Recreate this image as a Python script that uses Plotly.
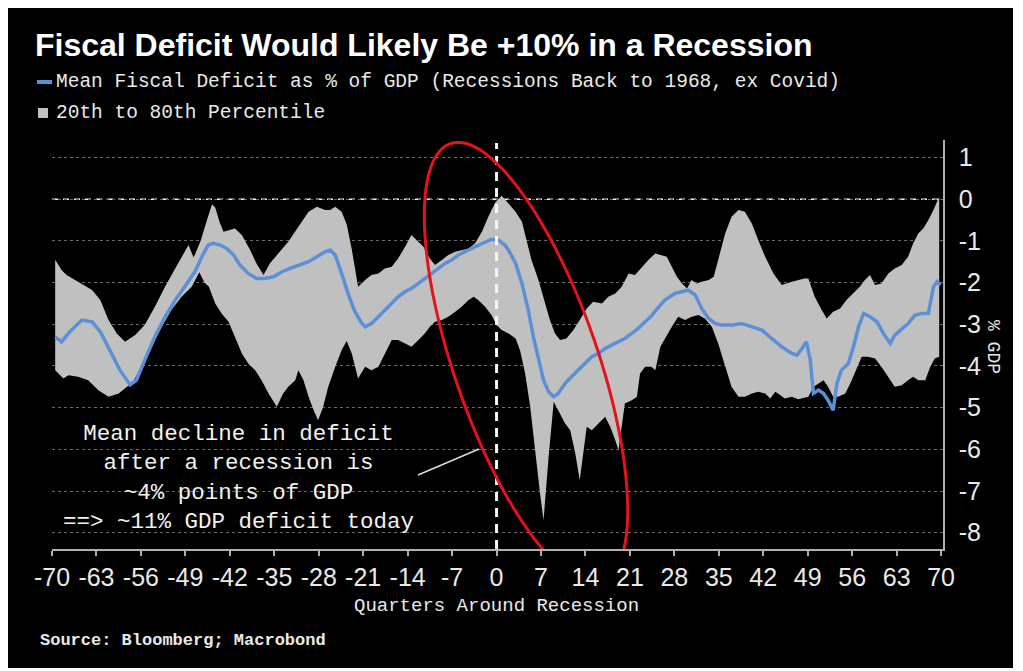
import numpy as np
import plotly.graph_objects as go

# ---------------- data ----------------
upper_q = [-69.5, -68.5, -67.7, -65.9, -63.7, -62.4, -61.1, -59.8, -58.5, -56.9, -55.4, -53.8, -52.2, -50.6,
           -49.3, -48.5, -47.7, -46.6, -45.6, -44.8, -44.3, -43.6, -43.0, -42.2, -41.2, -40.1, -38.8, -37.8,
           -36.7, -35.7, -34.4, -32.8, -31.2, -29.6, -28.3, -27.0, -26.2, -25.4, -24.4, -23.6, -22.8, -22.2,
           -21.8, -20.7, -19.7, -18.6, -17.6, -16.5, -15.5, -14.4, -13.4, -12.6, -11.5, -10.5, -9.7, -8.6,
           -7.6, -6.5, -5.5, -4.4, -3.4, -2.3, -1.3, -0.2, 0.8, 1.9, 3.0, 4.0, 4.75, 5.5, 6.6, 7.6, 8.4, 9.2,
           10.0, 11.0, 12.1, 13.1, 14.2, 15.2, 16.6, 17.6, 18.7, 19.7, 20.8, 21.8, 22.9, 23.9, 25.0, 25.8,
           26.8, 27.6, 28.4, 29.2, 30.0, 30.7, 31.5, 32.3, 33.4, 34.2, 34.9, 36.0, 37.0, 38.1, 39.1, 40.2,
           41.2, 42.3, 43.6, 44.9, 46.5, 47.5, 48.5, 49.1, 50.1, 51.2, 52.0, 53.0, 54.1, 55.1, 56.2, 57.2,
           58.0, 58.8, 59.6, 60.6, 61.7, 62.7, 63.8, 64.8, 65.6, 66.4, 67.2, 68.0, 68.8, 69.7]
upper_80th = [-1.45, -1.7, -1.82, -1.98, -2.18, -2.42, -2.9, -3.22, -3.42, -3.26, -3.02, -2.58, -2.1, -1.66,
              -1.3, -1.1, -1.4, -1.0, -0.5, -0.12, -0.2, -0.55, -0.78, -0.74, -0.7, -0.86, -1.22, -1.54,
              -1.82, -1.54, -1.3, -1.02, -0.66, -0.3, -0.18, -0.26, -0.26, -0.18, -0.3, -0.6, -1.2, -1.7,
              -2.1, -1.94, -1.82, -1.78, -1.66, -1.62, -1.42, -1.14, -0.86, -0.98, -1.14, -1.42, -1.58, -1.46,
              -1.34, -1.26, -1.22, -1.18, -1.06, -0.78, -0.42, -0.08, 0.08, -0.1, -0.3, -0.54, -0.98, -1.46,
              -1.94, -2.5, -2.9, -3.22, -3.38, -3.34, -3.14, -2.9, -2.62, -2.46, -2.5, -2.34, -2.26, -2.1,
              -1.78, -1.82, -1.62, -1.46, -1.3, -1.34, -1.38, -1.62, -1.86, -2.02, -2.14, -1.94, -2.02, -1.98,
              -1.94, -1.86, -1.46, -0.82, -0.42, -0.26, -0.3, -0.58, -0.98, -1.38, -1.78, -2.06, -1.98, -1.94,
              -1.9, -1.9, -2.34, -2.66, -2.86, -2.7, -2.62, -2.42, -2.26, -2.1, -1.94, -1.82, -2.06, -2.02,
              -1.78, -1.66, -1.58, -1.38, -1.06, -0.82, -0.7, -0.5, -0.26, 0.06]

lower_q = [-69.5, -68.2, -67.4, -65.9, -64.3, -62.7, -61.1, -59.5, -58.2, -57.4, -55.9, -54.3, -52.7, -51.2,
           -49.6, -48.0, -46.8, -46.0, -45.3, -44.3, -43.3, -42.2, -41.2, -40.1, -39.1, -38.0, -37.0, -35.9,
           -34.6, -33.6, -32.8, -31.7, -31.2, -30.4, -29.6, -28.8, -28.1, -27.3, -26.5, -25.4, -24.4, -23.6,
           -22.8, -21.8, -20.7, -19.7, -18.6, -17.6, -16.5, -15.5, -14.4, -13.4, -12.3, -11.3, -10.5, -9.7,
           -8.6, -7.6, -6.5, -5.5, -4.4, -3.6, -2.9, -1.8, -0.8, 0.0, 0.8, 1.9, 3.0, 3.7, 4.5, 5.3, 6.1,
           6.85, 7.4, 8.2, 9.0, 9.7, 10.8, 11.6, 12.4, 13.1, 13.7, 14.2, 15.0, 16.0, 17.1, 17.9, 18.7, 19.2,
           19.7, 20.2, 21.3, 22.1, 22.6, 23.4, 24.4, 25.0, 25.8, 26.5, 27.6, 28.6, 29.7, 30.7, 31.8, 32.8,
           33.9, 34.9, 36.0, 37.0, 38.1, 39.1, 40.2, 41.2, 42.3, 43.1, 43.9, 44.7, 45.4, 46.5, 47.5, 48.5,
           49.1, 49.9, 50.7, 51.5, 52.2, 53.0, 53.8, 54.9, 55.7, 56.4, 57.5, 58.5, 59.6, 60.6, 61.7, 62.7,
           63.8, 64.8, 65.6, 66.4, 67.5, 68.3, 69.0, 69.7]
lower_20th = [-4.1, -4.3, -4.22, -4.26, -4.34, -4.58, -4.74, -4.66, -4.5, -4.42, -4.02, -3.54, -3.06, -2.66,
              -2.34, -2.1, -1.75, -2.0, -2.1, -2.5, -2.74, -2.94, -3.3, -3.7, -3.94, -4.1, -4.34, -4.66,
              -4.98, -4.66, -4.5, -4.34, -4.1, -4.34, -4.74, -5.06, -5.3, -4.98, -4.5, -4.02, -3.62, -3.4,
              -3.7, -4.3, -4.02, -4.1, -4.02, -3.7, -3.38, -3.38, -3.46, -3.54, -3.38, -3.22, -3.06, -2.94,
              -2.9, -2.82, -2.7, -2.58, -2.42, -2.34, -2.42, -2.58, -2.78, -3.02, -3.14, -3.22, -3.34, -3.62,
              -4.18, -4.98, -6.02, -7.06, -7.7, -6.18, -4.86, -5.06, -5.38, -5.54, -6.1, -6.74, -6.1, -5.46,
              -5.54, -5.38, -5.22, -5.46, -5.78, -6.02, -5.46, -4.9, -4.82, -4.74, -4.18, -4.02, -4.02, -4.1,
              -3.54, -3.34, -3.06, -2.82, -2.9, -2.82, -2.78, -2.86, -3.06, -3.46, -4.02, -4.5, -4.74, -4.74,
              -4.66, -4.62, -4.66, -4.78, -4.62, -4.7, -4.78, -4.74, -4.8, -4.76, -4.74, -4.5, -4.42, -4.34,
              -4.5, -4.74, -4.74, -4.66, -4.42, -4.18, -3.78, -3.78, -3.82, -4.02, -4.26, -4.5, -4.46, -4.34,
              -4.26, -4.34, -4.34, -4.02, -3.82, -3.78]

mean_q = [-69.5, -68.5, -67.2, -65.3, -63.7, -62.4, -60.9, -59.3, -57.7, -56.7, -55.4, -53.8, -52.2, -50.6,
          -49.1, -47.5, -46.4, -45.4, -44.6, -43.5, -42.5, -41.4, -40.4, -39.1, -37.8, -36.5, -35.1, -33.8,
          -32.5, -31.2, -29.6, -28.3, -27.0, -26.2, -25.4, -24.4, -23.3, -22.3, -21.2, -20.7, -19.7, -18.6,
          -17.6, -16.5, -15.5, -14.4, -13.4, -12.3, -11.3, -10.2, -9.2, -8.1, -7.1, -6.0, -5.0, -3.9, -2.9,
          -1.8, -0.8, 0.3, 1.3, 1.9, 3.0, 4.0, 5.0, 5.8, 6.6, 7.4, 8.2, 9.0, 9.7, 10.8, 11.8, 12.9, 14.0,
          15.0, 16.0, 17.1, 18.1, 19.2, 20.2, 21.3, 22.3, 23.4, 24.4, 25.0, 26.5, 28.1, 29.2, 30.2, 31.3,
          32.3, 33.4, 34.4, 35.5, 37.0, 38.6, 40.2, 41.8, 43.3, 44.9, 46.5, 47.3, 48.1, 48.8, 49.4, 49.9,
          50.7, 51.5, 52.2, 53.0, 53.6, 54.3, 55.4, 56.2, 57.0, 57.8, 58.8, 59.9, 60.9, 62.0, 62.7, 63.8,
          64.8, 65.9, 67.0, 68.0, 68.8, 69.4, 69.9]
mean_deficit = [-3.3, -3.42, -3.18, -2.9, -2.94, -3.18, -3.62, -4.1, -4.45, -4.34, -3.86, -3.3, -2.82, -2.42,
                -2.1, -1.74, -1.38, -1.1, -1.06, -1.1, -1.18, -1.34, -1.58, -1.78, -1.9, -1.9, -1.86, -1.74,
                -1.66, -1.58, -1.5, -1.38, -1.26, -1.22, -1.34, -1.78, -2.3, -2.7, -2.98, -3.06, -2.98, -2.82,
                -2.66, -2.5, -2.34, -2.22, -2.14, -2.02, -1.9, -1.78, -1.66, -1.54, -1.46, -1.34, -1.26, -1.18,
                -1.1, -1.02, -0.96, -0.98, -1.1, -1.22, -1.54, -2.02, -2.66, -3.3, -3.86, -4.34, -4.62, -4.74,
                -4.66, -4.42, -4.26, -4.1, -3.94, -3.78, -3.7, -3.58, -3.5, -3.42, -3.34, -3.22, -3.1, -2.94,
                -2.8, -2.68, -2.42, -2.26, -2.22, -2.18, -2.3, -2.62, -2.86, -2.98, -3.02, -3.02, -2.98, -3.06,
                -3.14, -3.34, -3.54, -3.7, -3.74, -3.58, -3.42, -3.86, -4.66, -4.58, -4.66, -4.82, -5.06,
                -4.42, -4.1, -3.94, -3.54, -3.06, -2.74, -2.82, -2.94, -3.22, -3.46, -3.26, -3.1, -2.98,
                -2.78, -2.74, -2.74, -2.1, -1.98, -2.06]

x_tick_vals = list(range(-70, 71, 7))
x_tick_labels = [str(v) for v in x_tick_vals]
y_tick_vals = list(range(-8, 2))
y_tick_labels = [str(v) for v in y_tick_vals]

# ---------------- geometry (reference-frame pixels; page body adds an 8px offset) ----------------
OFF = 8
W, H = 1013 - OFF, 668 - OFF
L, R, T, B = 52, 943, 140, 549          # plot area in reference pixels
XR = [-70.0, 70.3]
YR = [-8.39, 1.42]


def px_x(px):
    return XR[0] + (px - L) / (R - L) * (XR[1] - XR[0])


def px_y(py):
    return YR[1] - (py - T) / (B - T) * (YR[1] - YR[0])


def pap_x(px):
    return (px - L) / (R - L)


def pap_y(py):
    return (B - py) / (B - T)


BAND = "#c0c0c0"
BLUE = "#5b8fd6"
TXT = "#e9e9e9"
MONO = "Liberation Mono, DejaVu Sans Mono, monospace"
SANS = "Liberation Sans, Arial, sans-serif"

fig = go.Figure()
fig.add_trace(go.Scatter(
    x=upper_q + lower_q[::-1], y=upper_80th + lower_20th[::-1],
    fill="toself", fillcolor=BAND, line=dict(width=0), mode="lines",
    name="20th to 80th Percentile", hoverinfo="skip", showlegend=False))
fig.add_trace(go.Scatter(
    x=mean_q, y=mean_deficit, mode="lines",
    line=dict(color=BLUE, width=3.5),
    name="Mean Fiscal Deficit as % of GDP (Recessions Back to 1968, ex Covid)", showlegend=False))

shapes = []
# zero line
shapes.append(dict(type="line", xref="paper", x0=0, x1=1, yref="y", y0=0, y1=0,
                   line=dict(color="#f0f0f0", width=1.5, dash="6px,5px"), layer="below"))
# recession start vertical line
shapes.append(dict(type="line", xref="x", x0=0, x1=0, yref="paper", y0=0, y1=pap_y(143),
                   line=dict(color="#f5f5f5", width=3, dash="9px,7px"), layer="above"))

# red ellipse (pixel geometry -> data coordinates)
cx, cy, a, b, th = 526.0, 363.0, 232.0, 72.0, np.radians(19.0)
ux, uy = np.sin(th), np.cos(th)
vx, vy = np.cos(th), -np.sin(th)
t = np.linspace(0, 2 * np.pi, 181)
ex = cx + a * np.cos(t) * ux + b * np.sin(t) * vx
ey = cy + a * np.cos(t) * uy + b * np.sin(t) * vy
path = "M " + " L ".join(f"{px_x(xx):.3f},{px_y(yy):.3f}" for xx, yy in zip(ex, ey)) + " Z"
shapes.append(dict(type="path", xref="x", yref="y", path=path,
                   line=dict(color="#e3121b", width=3), layer="above"))

# pointer line from annotation
shapes.append(dict(type="line", xref="x", yref="y", x0=px_x(418), y0=px_y(475), x1=px_x(479), y1=px_y(449),
                   line=dict(color="#dcdcdc", width=1.5), layer="above"))

# legend symbols
shapes.append(dict(type="line", xref="paper", yref="paper", x0=pap_x(37), x1=pap_x(52), y0=pap_y(82), y1=pap_y(82),
                   line=dict(color=BLUE, width=4)))
shapes.append(dict(type="rect", xref="paper", yref="paper", x0=pap_x(38), x1=pap_x(48), y0=pap_y(118), y1=pap_y(108),
                   fillcolor=BAND, line=dict(width=0)))

annotations = [
    dict(xref="paper", yref="paper", x=pap_x(54), y=pap_y(82), xanchor="left", yanchor="middle", showarrow=False,
         text="Mean Fiscal Deficit as % of GDP (Recessions Back to 1968, ex Covid)",
         font=dict(family=MONO, size=19.5, color=TXT)),
    dict(xref="paper", yref="paper", x=pap_x(54), y=pap_y(113), xanchor="left", yanchor="middle", showarrow=False,
         text="20th to 80th Percentile", font=dict(family=MONO, size=19.5, color=TXT)),
    dict(xref="paper", yref="paper", x=pap_x(238), y=pap_y(478), xanchor="center", yanchor="middle", showarrow=False,
         align="center",
         text="Mean decline in deficit<br>after a recession is<br>~4% points of GDP<br>==> ~11% GDP deficit today",
         font=dict(family=MONO, size=22.5, color="#f2f2f2")),
    dict(xref="paper", yref="paper", x=pap_x(496.5), y=pap_y(606), xanchor="center", yanchor="middle", showarrow=False,
         text="Quarters Around Recession", font=dict(family=MONO, size=19, color=TXT)),
    dict(xref="paper", yref="paper", x=pap_x(993), y=pap_y(347), xanchor="center", yanchor="middle", showarrow=False,
         text="% GDP", textangle=90, font=dict(family=MONO, size=18, color=TXT)),
    dict(xref="paper", yref="paper", x=pap_x(38), y=pap_y(640), xanchor="left", yanchor="middle", showarrow=False,
         text="<b>Source: Bloomberg; Macrobond</b>", font=dict(family=MONO, size=17, color=TXT)),
]

fig.update_layout(
    width=W, height=H, autosize=False,
    margin=dict(l=L - OFF, r=W - (R - OFF), t=T - OFF, b=H - (B - OFF), pad=0),
    paper_bgcolor="#000000", plot_bgcolor="#000000",
    title=dict(text="<b>Fiscal Deficit Would Likely Be +10% in a Recession</b>",
               x=(35 - OFF) / W, xanchor="left", xref="container",
               y=1 - (45 - OFF) / H, yanchor="middle", yref="container",
               font=dict(family=SANS, size=32, color="#ffffff")),
    showlegend=False,
    shapes=shapes,
    annotations=annotations,
    xaxis=dict(range=XR, tickvals=x_tick_vals, ticktext=x_tick_labels,
               ticks="outside", ticklen=5, tickwidth=1.5, tickcolor="#b0b0b0",
               showline=True, linecolor="#b0b0b0", linewidth=1.5,
               showgrid=False, zeroline=False,
               tickfont=dict(family=SANS, size=25, color=TXT)),
    yaxis=dict(range=YR, side="right", tickvals=y_tick_vals, ticktext=y_tick_labels,
               ticks="", showline=True, linecolor="#b0b0b0", linewidth=1.5,
               showgrid=True, gridcolor="#6a6a6a", griddash="dot", gridwidth=1,
               zeroline=False, ticklabelstandoff=9,
               tickfont=dict(family=SANS, size=25, color=TXT)),
)

fig.write_html("out.html")
